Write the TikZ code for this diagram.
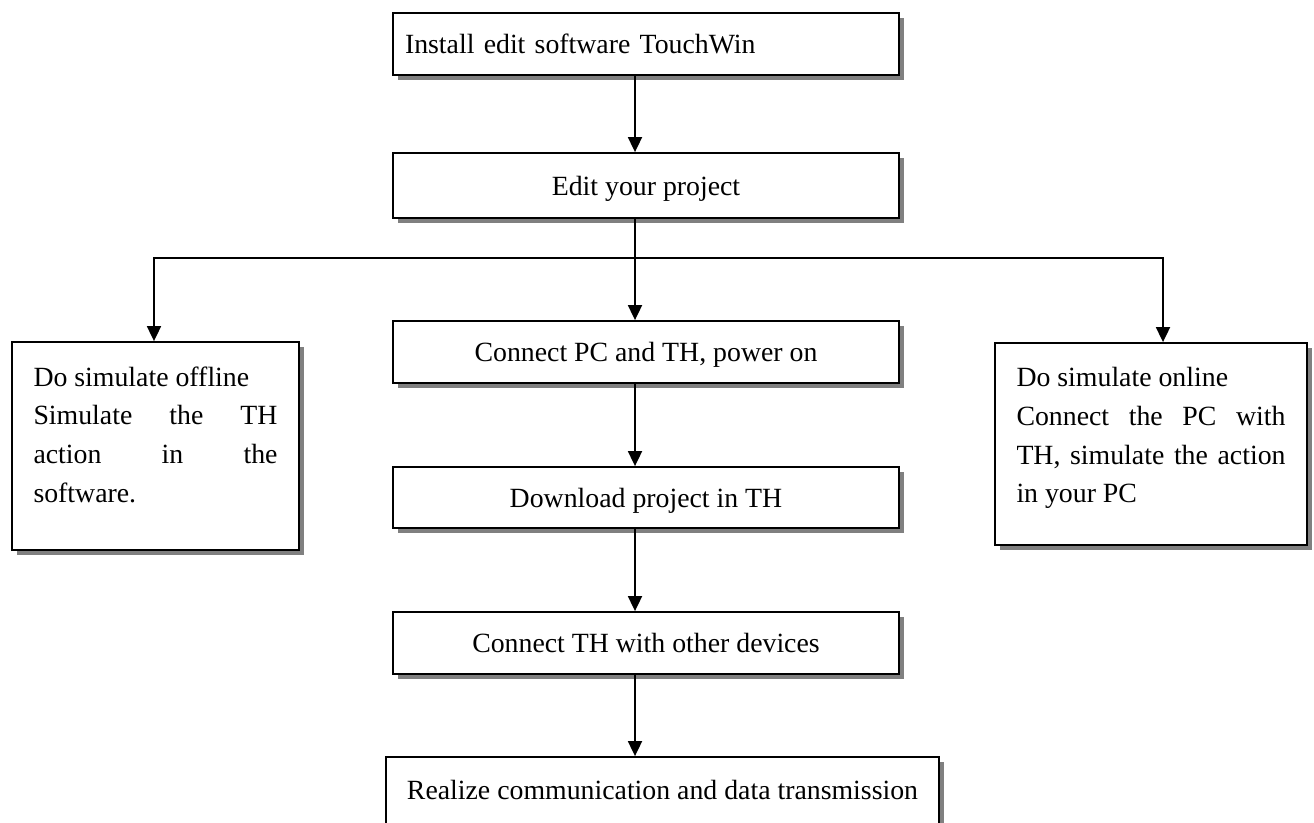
\documentclass[tikz,border=0pt]{standalone}
\usepackage{fontspec}
\setmainfont{Liberation Serif}
\usetikzlibrary{arrows.meta,shadows}
\begin{document}
\begin{tikzpicture}[x=1pt,y=-1pt,
  every node/.style={font=\fontsize{27.8pt}{38.7pt}\selectfont},
  frame/.style={draw=black, line width=1.8pt, fill=white,
    drop shadow={shadow xshift=5pt, shadow yshift=-5pt, fill=black!50, opacity=1},
    inner sep=0pt},
  box/.style={frame, text height=21pt, text depth=1.5pt},
  arr/.style={line width=1.8pt, -{Triangle[width=14pt,length=15pt]}},
  ln/.style={line width=1.8pt}]
\fill[white] (0,0) rectangle (1314,822);
\clip (0,0) rectangle (1314,822);

% main column
\node[box, minimum width=506pt, minimum height=62pt, text width=482pt, inner xsep=12pt, align=left] (b1) at (646,44) {Install edit software TouchWin};
\node[box, minimum width=506pt, minimum height=65pt] (b2) at (646,185.5) {Edit your project};
\node[box, minimum width=506pt, minimum height=62pt] (b3) at (646,352) {Connect PC and TH, power on};
\node[box, minimum width=506pt, minimum height=61pt] (b4) at (646,497.5) {Download project in TH};
\node[box, minimum width=506pt, minimum height=62pt] (b5) at (646,643) {Connect TH with other devices};
\node[box, minimum width=553pt, minimum height=80pt, text depth=17pt] (b6) at (662.5,797) {Realize communication and data transmission};

% side boxes
\node[frame, minimum width=287pt, minimum height=208pt] (lb) at (155.5,446)
  {\parbox[c][159pt][t]{244pt}{Do simulate offline\\
   \hbox to 244pt{Simulate\hfill the\hfill TH}\\
   \hbox to 244pt{action\hfill in\hfill the}\\
   software.}};
\node[frame, minimum width=312pt, minimum height=202pt] (rb) at (1151,444)
  {\parbox[c][153pt][t]{269pt}{Do simulate online\\
   \hbox to 269pt{Connect\hfill the\hfill PC\hfill with}\\
   \hbox to 269pt{TH,\hfill simulate\hfill the\hfill action}\\
   in your PC}};

% connectors
\coordinate (ax) at (635,0);
\coordinate (sp) at (635,258);
\coordinate (lj) at (154,258);
\coordinate (rj) at (1163,258);
\draw[arr] (b1.south -| ax) -- (b2.north -| ax);
\draw[ln] (b2.south -| ax) -- (sp);
\draw[arr] (sp) -- (b3.north -| ax);
\draw[arr] (sp) -- (lj) -- (lb.north -| lj);
\draw[arr] (sp) -- (rj) -- (rb.north -| rj);
\draw[arr] (b3.south -| ax) -- (b4.north -| ax);
\draw[arr] (b4.south -| ax) -- (b5.north -| ax);
\draw[arr] (b5.south -| ax) -- (b6.north -| ax);
\end{tikzpicture}
\end{document}
